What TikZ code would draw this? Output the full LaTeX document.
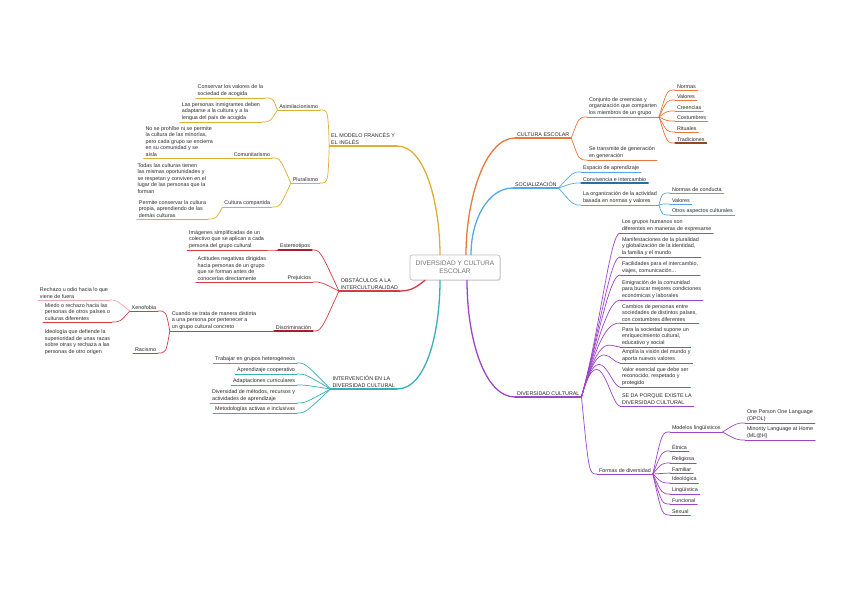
\documentclass[tikz,border=0pt]{standalone}
\usepackage{fontspec}
\setmainfont{Liberation Sans}
\usetikzlibrary{calc,shadows}
\definecolor{mmGold}{HTML}{DFAE36}
\definecolor{mmOrange}{HTML}{E8783C}
\definecolor{mmBrown}{HTML}{8C4B26}
\definecolor{mmBlue}{HTML}{54A9E2}
\definecolor{mmNavy}{HTML}{2F6E99}
\definecolor{mmRed}{HTML}{D53B46}
\definecolor{mmWine}{HTML}{A3202C}
\definecolor{mmPink}{HTML}{EBA8AE}
\definecolor{mmTeal}{HTML}{3AAEB6}
\definecolor{mmPurple}{HTML}{9C45C8}
\definecolor{mmText}{HTML}{2B2B2B}
\definecolor{mmGray}{HTML}{747474}
\newcommand{\mmsize}{\fontsize{4.6}{5.6}\selectfont}
\tikzset{
  mm root/.style={draw=black!25, fill=white, rounded corners=2pt, line width=0.6pt,
    minimum width=2.7cm, minimum height=0.75cm, align=center,
    font=\fontsize{5.6}{6.6}\selectfont, text=mmGray,
    drop shadow={shadow xshift=0.7pt, shadow yshift=-0.7pt, opacity=0.25}},
  mm topic/.style={font=\mmsize, text=mmText, align=left, inner xsep=1.5pt, inner ysep=1pt},
  mm right/.style={mm topic, anchor=south west},
  mm left/.style={mm topic, anchor=south east},
  mm main/.style={line width=1.1pt, line cap=round},
  mm sub/.style={line width=0.6pt, line cap=round},
}
\begin{document}
\begin{tikzpicture}[x=0.03cm, y=-0.03cm]
  \fill[white] (0,0) rectangle (848,599);
  \node[mm root] (root) at (455,267.5) {DIVERSIDAD Y CULTURA\\ESCOLAR};
  \coordinate (rootGold) at ($(root.north)+(-15,0)$);
  \coordinate (rootOrange) at ($(root.north)+(11,0)$);
  \coordinate (rootBlue) at ($(root.north)+(16,0)$);
  \coordinate (rootRed) at ($(root.south)+(-30,0)$);
  \coordinate (rootTeal) at ($(root.south)+(-15,0)$);
  \coordinate (rootPurple) at ($(root.south)+(12,0)$);

  % modelos
  \node[mm left] (modelo) at (397,146) {EL MODELO FRANCÉS Y\\EL INGLÉS};
  \node[mm left] (asim) at (320,110) {Asimilacionismo};
  \node[mm left] (asimA) at (265,98) {Conservar los valores de la\\sociedad de acogida};
  \node[mm left] (asimB) at (262,122) {Las personas inmigrantes deben\\adaptarse a la cultura y a la\\lengua del país de acogida};
  \node[mm left] (plur) at (320,183) {Pluralismo};
  \node[mm left] (comu) at (272,158) {Comunitarismo};
  \node[mm left] (comuA) at (215,158) {No se prohíbe ni se permite\\la cultura de las minorías,\\pero cada grupo se encierra\\en su comunidad y se\\aísla};
  \node[mm left] (plurNote) at (208,195) {Todas las culturas tienen\\las mismas oportunidades y\\se respetan y conviven en el\\lugar de las personas que la\\forman};
  \node[mm left] (cult) at (272,207) {Cultura compartida};
  \node[mm left] (cultA) at (208,219) {Permite conservar la cultura\\propia, aprendiendo de las\\demás culturas};
  \draw[mm main, mmGold] (modelo.south west) -- (modelo.south east);
  \draw[mm main, mmGold] (rootGold) .. controls +(0,-45) and +(30,0) .. (modelo.south east);
  \foreach \n in {asim,asimA,asimB,plur,comu,comuA,cult,cultA}
    \draw[mm sub, mmGold] (\n.south west) -- (\n.south east);
  \foreach \a/\b in {modelo/asim,modelo/plur,asim/asimA,asim/asimB,plur/comu,plur/cult,comu/comuA,cult/cultA}
    \draw[mm sub, mmGold] (\a.south west) .. controls ($(\b.south east)+(8,0)$) .. (\b.south east);

  % obstaculos
  \node[mm left] (obst) at (400,291) {OBSTÁCULOS A LA\\INTERCULTURALIDAD};
  \node[mm left] (este) at (312,250) {Estereotipos};
  \node[mm left] (esteA) at (266,250) {Imágenes simplificadas de un\\colectivo que se aplican a cada\\persona del grupo cultural};
  \node[mm left] (prej) at (313,282) {Prejuicios};
  \node[mm left] (prejA) at (268,282) {Actitudes negativas dirigidas\\hacia personas de un grupo\\que se forman antes de\\conocerlas directamente};
  \node[mm left] (disc) at (313,331) {Discriminación};
  \node[mm left] (discA) at (258,331) {Cuando se trata de manera distinta\\a una persona por pertenecer a\\un grupo cultural concreto};
  \node[mm left] (xeno) at (158,311) {Xenofobia};
  \node[mm left] (xenoA) at (110,300) {Rechazo u odio hacia lo que\\viene de fuera};
  \node[mm left] (xenoB) at (112,322) {Miedo o rechazo hacia las\\personas de otros países o\\culturas diferentes};
  \node[mm left] (raci) at (158,353) {Racismo};
  \node[mm left] (raciNote) at (112,356) {Ideología que defiende la\\superioridad de unas razas\\sobre otras y rechaza a las\\personas de otro origen};
  \draw[mm main, mmRed] (obst.south west) -- (obst.south east);
  \draw[mm main, mmRed] (rootRed) .. controls +(-8,6) and +(12,0) .. (obst.south east);
  \foreach \n in {esteA,prej,prejA,discA,xeno,xenoB,raci}
    \draw[mm sub, mmRed] (\n.south west) -- (\n.south east);
  \foreach \n in {este,disc}
    \draw[mm main, mmWine] (\n.south west) -- (\n.south east);
  \foreach \a/\b in {obst/este,obst/prej,obst/disc,este/esteA,prej/prejA,disc/discA,discA/xeno,discA/raci,xeno/xenoB}
    \draw[mm sub, mmRed] (\a.south west) .. controls ($(\b.south east)+(8,0)$) .. (\b.south east);
  \draw[mm sub, mmPink] (xenoA.south west) -- (xenoA.south east);
  \draw[mm sub, mmPink] (xeno.south west) .. controls ($(xenoA.south east)+(6,0)$) .. (xenoA.south east);

  % intervencion
  \node[mm left] (inter) at (397,389) {INTERVENCIÓN EN LA\\DIVERSIDAD CULTURAL};
  \node[mm left] (grupos) at (297,363) {Trabajar en grupos heterogéneos};
  \node[mm left] (coop) at (297,374) {Aprendizaje cooperativo};
  \node[mm left] (adap) at (297,385) {Adaptaciones curriculares};
  \node[mm left] (metod) at (297,403) {Diversidad de métodos, recursos y\\actividades de aprendizaje};
  \node[mm left] (activ) at (297,413) {Metodologías activas e inclusivas};
  \draw[mm main, mmTeal] (inter.south west) -- (inter.south east);
  \draw[mm main, mmTeal] (rootTeal) .. controls +(0,50) and +(30,0) .. (inter.south east);
  \foreach \b in {grupos,coop,adap,metod,activ}{
    \draw[mm sub, mmTeal] (\b.south west) -- (\b.south east);
    \draw[mm sub, mmTeal] (inter.south west) .. controls ($(\b.south east)+(8,0)$) .. (\b.south east);
  }

  % cultura escolar
  \node[mm right] (cultura) at (515,138) {CULTURA ESCOLAR};
  \node[mm right] (conj) at (587,117) {Conjunto de creencias y\\organización que comparten\\los miembros de un grupo};
  \node[mm right] (trans) at (587,160) {Se transmite de generación\\en generación};
  \node[mm right] (normas) at (675,90) {Normas};
  \node[mm right] (valores) at (675,100) {Valores};
  \node[mm right] (creen) at (675,111) {Creencias};
  \node[mm right] (costum) at (675,121) {Costumbres};
  \node[mm right] (ritual) at (675,132) {Rituales};
  \node[mm right] (tradic) at (675,143) {Tradiciones};
  \draw[mm main, mmOrange] (cultura.south west) -- (cultura.south east);
  \draw[mm main, mmOrange] (rootOrange) .. controls +(0,-55) and +(-30,0) .. (cultura.south west);
  \foreach \n in {conj,trans,normas,valores,creen,costum,ritual}
    \draw[mm sub, mmOrange] (\n.south west) -- (\n.south east);
  \foreach \a/\b in {cultura/conj,cultura/trans,conj/normas,conj/valores,conj/creen,conj/costum,conj/ritual}
    \draw[mm sub, mmOrange] (\a.south east) .. controls ($(\b.south west)+(-8,0)$) .. (\b.south west);
  \draw[mm main, mmBrown] (tradic.south west) -- (tradic.south east);
  \draw[mm sub, mmOrange] (conj.south east) .. controls ($(tradic.south west)+(-8,0)$) .. (tradic.south west);

  % socializacion
  \node[mm right] (social) at (513,188) {SOCIALIZACIÓN};
  \node[mm right] (espacio) at (581,172) {Espacio de aprendizaje};
  \node[mm right] (conviv) at (581,183) {Convivencia e intercambio};
  \node[mm right] (organ) at (581,205) {La organización de la actividad\\basada en normas y valores};
  \node[mm right] (conduc) at (670,193) {Normas de conducta};
  \node[mm right] (valor) at (670,204) {Valores};
  \node[mm right] (otros) at (670,215) {Otros aspectos culturales};
  \draw[mm main, mmBlue] (social.south west) -- (social.south east);
  \draw[mm main, mmBlue] (rootBlue) .. controls +(0,-35) and +(-25,0) .. (social.south west);
  \foreach \n in {espacio,organ,conduc,valor,otros}
    \draw[mm sub, mmBlue] (\n.south west) -- (\n.south east);
  \draw[mm main, mmNavy] (conviv.south west) -- (conviv.south east);
  \foreach \a/\b in {social/espacio,social/conviv,social/organ,organ/conduc,organ/valor,organ/otros}
    \draw[mm sub, mmBlue] (\a.south east) .. controls ($(\b.south west)+(-8,0)$) .. (\b.south west);

  % diversidad cultural
  \node[mm right] (divers) at (515,397) {DIVERSIDAD CULTURAL};
  \coordinate (divFan) at (600,330);
  \node[mm right] (divA) at (620,233) {Los grupos humanos son\\diferentes en maneras de expresarse};
  \node[mm right] (divB) at (620,257) {Manifestaciones de la pluralidad\\y globalización de la identidad,\\la familia y el mundo};
  \node[mm right] (divC) at (620,275) {Facilidades para el intercambio,\\viajes, comunicación...};
  \node[mm right] (divD) at (620,300) {Emigración de la comunidad\\para buscar mejores condiciones\\económicas y laborales};
  \node[mm right] (divE) at (620,323) {Cambios de personas entre\\sociedades de distintos países,\\con costumbres diferentes};
  \node[mm right] (divF) at (620,347) {Para la sociedad supone un\\enriquecimiento cultural,\\educativo y social};
  \node[mm right] (divG) at (620,363) {Amplía la visión del mundo y\\aporta nuevos valores};
  \node[mm right] (divH) at (620,387) {Valor esencial que debe ser\\reconocido, respetado y\\protegido};
  \node[mm right] (divI) at (620,406) {SE DA PORQUE EXISTE LA\\DIVERSIDAD CULTURAL};
  \node[mm right] (formas) at (597,474) {Formas de diversidad};
  \node[mm right] (modLing) at (670,432) {Modelos lingüísticos};
  \node[mm right] (opol) at (745,423) {One Person One Language\\(OPOL)};
  \node[mm right] (mlah) at (745,440) {Minority Language at Home\\(ML@H)};
  \node[mm right] (etnica) at (670,451) {Étnica};
  \node[mm right] (relig) at (670,463) {Religiosa};
  \node[mm right] (famil) at (670,473) {Familiar};
  \node[mm right] (ideol) at (670,483) {Ideológica};
  \node[mm right] (lingu) at (670,494) {Lingüística};
  \node[mm right] (funci) at (670,504) {Funcional};
  \node[mm right] (sexual) at (670,515) {Sexual};
  \draw[mm main, mmPurple] (divers.south west) -- (divers.south east);
  \draw[mm main, mmPurple] (rootPurple) .. controls +(0,60) and +(-30,0) .. (divers.south west);
  \foreach \n in {divA,divB,divC,divD,divE,divF,divG,divH,divI,formas,modLing,opol,mlah,etnica,relig,famil,ideol,lingu,funci,sexual}
    \draw[mm sub, mmPurple] (\n.south west) -- (\n.south east);
  \foreach \b in {divA,divB,divC,divD,divE,divF,divG,divH,divI}
    \draw[mm sub, mmPurple] (divers.south east) .. controls (divFan) and ($(\b.south west)+(-10,0)$) .. (\b.south west);
  \foreach \a/\b in {divers/formas,formas/modLing,formas/etnica,formas/relig,formas/famil,formas/ideol,formas/lingu,formas/funci,formas/sexual,modLing/opol,modLing/mlah}
    \draw[mm sub, mmPurple] (\a.south east) .. controls ($(\b.south west)+(-8,0)$) .. (\b.south west);
\end{tikzpicture}
\end{document}
